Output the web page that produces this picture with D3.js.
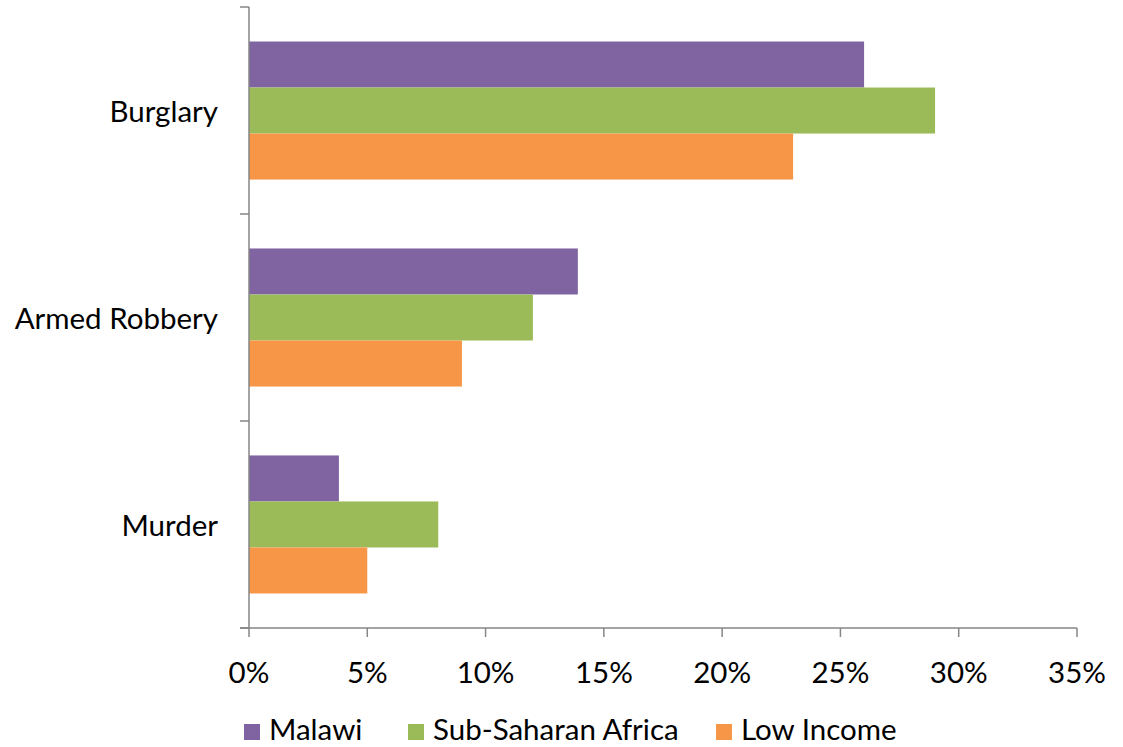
<!DOCTYPE html>
<html><head><meta charset="utf-8">
<script src="https://cdn.jsdelivr.net/npm/d3@7"></script>
<style>body{margin:0;background:#fff}svg{display:block}text{font-family:Lato,"Open Sans",sans-serif;fill:#000}</style>
</head><body><svg id="c" width="1123" height="747"></svg>
<script>
const categories = ["Burglary", "Armed Robbery", "Murder"];
const seriesNames = ["Malawi", "Sub-Saharan Africa", "Low Income"];
const malawi = [26, 13.9, 3.8];
const subSaharan = [29, 12, 8];
const lowIncome = [23, 9, 5];
const xTicks = [0, 5, 10, 15, 20, 25, 30, 35];
const colors = ["#8064A2", "#9BBB59", "#F79646"];

const seriesValues = [malawi, subSaharan, lowIncome];
const svg = d3.select("#c");
const pLeft = 249, pRight = 1077, pTop = 7, pBottom = 628;
const fs = "29.5px";

const x = d3.scaleLinear().domain([0, 35]).range([pLeft, pRight]);
const y = d3.scaleBand().domain(categories).range([pTop, pBottom]).paddingInner(0.333).paddingOuter(0.1667);
const ySub = d3.scaleBand().domain(seriesNames).range([0, y.bandwidth()]);

// bars
categories.forEach((c, ci) => {
  seriesNames.forEach((s, si) => {
    svg.append("rect")
      .attr("x", x(0))
      .attr("y", y(c) + ySub(s))
      .attr("width", x(seriesValues[si][ci]) - x(0))
      .attr("height", ySub.bandwidth())
      .attr("fill", colors[si]);
  });
});

// y axis
const bandStep = (pBottom - pTop) / categories.length;
const yg = svg.append("g");
yg.append("line").attr("x1", pLeft).attr("x2", pLeft).attr("y1", pTop).attr("y2", pBottom)
  .attr("stroke", "#868686").attr("stroke-width", 1.5);
d3.range(categories.length + 1).forEach(i => {
  const yy = pTop + i * bandStep;
  yg.append("line").attr("x1", pLeft - 9).attr("x2", pLeft).attr("y1", yy).attr("y2", yy)
    .attr("stroke", "#868686").attr("stroke-width", 1.5);
});
categories.forEach(c => {
  yg.append("text").attr("x", 218).attr("y", y(c) + y.bandwidth() / 2)
    .attr("text-anchor", "end").attr("dominant-baseline", "central")
    .style("font-size", fs).text(c);
});

// x axis
const xg = svg.append("g");
xg.append("line").attr("x1", pLeft - 9).attr("x2", pRight).attr("y1", pBottom).attr("y2", pBottom)
  .attr("stroke", "#868686").attr("stroke-width", 1.5);
xTicks.forEach(t => {
  xg.append("line").attr("x1", x(t)).attr("x2", x(t)).attr("y1", pBottom).attr("y2", pBottom + 9)
    .attr("stroke", "#868686").attr("stroke-width", 1.5);
  xg.append("text").attr("x", x(t)).attr("y", 683).attr("text-anchor", "middle")
    .style("font-size", fs).text(t + "%");
});

// legend
const legendX = [244, 408, 716];
seriesNames.forEach((s, i) => {
  svg.append("rect").attr("x", legendX[i]).attr("y", 724).attr("width", 16).attr("height", 16).attr("fill", colors[i]);
  svg.append("text").attr("x", legendX[i] + 25).attr("y", 740).style("font-size", fs).text(s);
});
</script></body></html>
